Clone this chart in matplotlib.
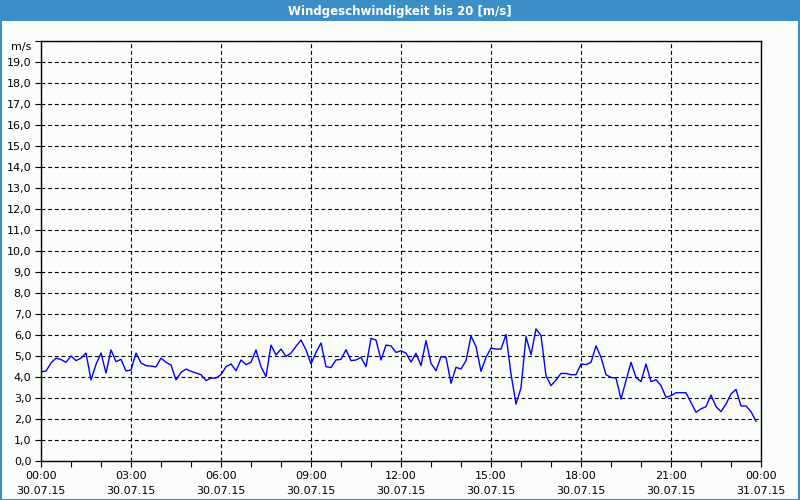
import matplotlib
matplotlib.use("Agg")
import matplotlib.pyplot as plt
import matplotlib.dates as mdates
import matplotlib.transforms as mtransforms
from matplotlib.patches import Rectangle
import numpy as np
import pandas as pd

title = "Windgeschwindigkeit bis 20 [m/s]"
start = "2015-07-30 00:00"
end = "2015-07-31 00:00"

# 10-minute wind speed readings, m/s
speed = [
    4.25, 4.28, 4.67, 4.90, 4.83, 4.70, 5.00, 4.78, 4.90, 5.14,
    3.86, 4.60, 5.14, 4.19, 5.29, 4.73, 4.84, 4.29, 4.33, 5.14,
    4.67, 4.54, 4.52, 4.48, 4.90, 4.70, 4.57, 3.86, 4.22, 4.38,
    4.27, 4.19, 4.11, 3.83, 3.95, 3.95, 4.11, 4.49, 4.62, 4.30,
    4.81, 4.59, 4.70, 5.29, 4.49, 4.02, 5.52, 5.05, 5.33, 4.98,
    5.14, 5.46, 5.76, 5.29, 4.62, 5.17, 5.62, 4.49, 4.45, 4.81,
    4.84, 5.30, 4.78, 4.81, 4.94, 4.49, 5.84, 5.76, 4.81, 5.52,
    5.48, 5.17, 5.25, 5.14, 4.71, 5.13, 4.54, 5.73, 4.65, 4.30,
    4.97, 4.94, 3.70, 4.46, 4.38, 4.78, 5.95, 5.45, 4.27, 4.94,
    5.37, 5.33, 5.33, 6.02, 4.14, 2.71, 3.48, 5.92, 5.06, 6.29,
    5.97, 4.06, 3.59, 3.86, 4.17, 4.17, 4.11, 4.11, 4.62, 4.59,
    4.70, 5.48, 4.94, 4.11, 3.98, 3.95, 2.95, 3.83, 4.70, 3.98,
    3.78, 4.62, 3.78, 3.87, 3.59, 3.03, 3.11, 3.25, 3.25, 3.25,
    2.79, 2.32, 2.48, 2.59, 3.14, 2.59, 2.35, 2.71, 3.19, 3.41,
    2.62, 2.62, 2.35, 1.89,
]
times = pd.date_range(start, periods=len(speed), freq="10min")

y_ticks = list(range(0, 21))
y_labels = [f"{v},0" for v in y_ticks[:-1]] + ["m/s"]

blue = "#3c8fc6"
bg = "#fbfdfb"

fig = plt.figure(figsize=(8, 5), dpi=100)
fig.patch.set_facecolor(bg)

# title bar and outer frame
fig.add_artist(Rectangle((0, 1 - 21 / 500), 1, 21 / 500, transform=fig.transFigure,
                         facecolor=blue, edgecolor="none"))
fig.add_artist(Rectangle((0.001, 0.001), 0.998, 0.998, transform=fig.transFigure,
                         facecolor="none", edgecolor=blue, linewidth=1.5))
fig.text(0.5, 1 - 11 / 500, title, color="white", fontsize=8.5, fontweight="bold",
         ha="center", va="center")

ax = fig.add_axes([41 / 800, 39 / 500, 720 / 800, 420 / 500])
ax.set_facecolor(bg)
ax.plot(times, speed, color="#0000ff", linewidth=1.0)

ax.set_xlim(pd.Timestamp(start), pd.Timestamp(end))
ax.set_ylim(0, 20)

ax.set_yticks(y_ticks)
ax.set_yticklabels(y_labels)
ax.xaxis.set_major_locator(mdates.HourLocator(byhour=range(0, 24, 3)))
ax.xaxis.set_minor_locator(mdates.HourLocator())
ax.xaxis.set_major_formatter(mdates.DateFormatter("%H:%M\n%d.%m.%y"))

ax.tick_params(axis="both", which="both", direction="out", length=4, width=0.8,
               labelsize=8, colors="black")
ax.tick_params(axis="x", which="major", pad=3)
ax.tick_params(axis="y", which="major", pad=3)
for lbl in ax.get_xticklabels():
    lbl.set_linespacing(1.6)

# unit label sits a little below the top tick
unit = ax.get_yticklabels()[-1]
unit.set_transform(unit.get_transform() +
                   mtransforms.ScaledTranslation(0, -5 / 100, fig.dpi_scale_trans))

ax.grid(True, which="major", color="black", linestyle=(0, (3.5, 2.5)), linewidth=0.8)
for s in ax.spines.values():
    s.set_color("black")
    s.set_linewidth(1.0)

fig.savefig("out.png", dpi=100, facecolor=bg)
